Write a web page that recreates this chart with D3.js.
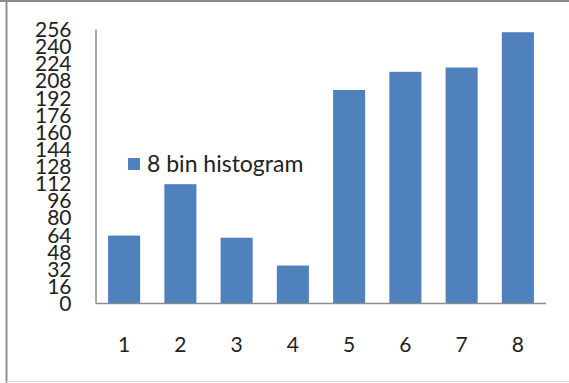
<!DOCTYPE html>
<html>
<head>
<meta charset="utf-8">
<script src="https://cdn.jsdelivr.net/npm/d3@7/dist/d3.min.js"></script>
<style>
  html, body { margin: 0; padding: 0; background: #fff; }
  svg { display: block; }
  text { font-family: Lato, "Open Sans", sans-serif; fill: #222; }
</style>
</head>
<body>
<script>
// Bin labels and pixel counts for the 8-bin histogram
const bins = ["1", "2", "3", "4", "5", "6", "7", "8"];
const counts = [63, 111, 61, 35, 199, 216, 220, 253];
const yTicks = [0, 16, 32, 48, 64, 80, 96, 112, 128, 144, 160, 176, 192, 208, 224, 240, 256];
const seriesName = "8 bin histogram";

const W = 569, H = 383;
const svg = d3.select("body").append("svg").attr("width", W).attr("height", H);

// outer frame
svg.append("line").attr("x1", 0).attr("x2", W).attr("y1", 1).attr("y2", 1)
  .attr("stroke", "#8a8a8a").attr("stroke-width", 2);
svg.append("line").attr("x1", 6.5).attr("x2", 6.5).attr("y1", 0).attr("y2", H)
  .attr("stroke", "#8f8f8f").attr("stroke-width", 2);
svg.append("line").attr("x1", 6).attr("x2", W).attr("y1", 381.5).attr("y2", 381.5)
  .attr("stroke", "#dcdcdc").attr("stroke-width", 1);

const plot = { left: 96, right: 546, top: 29, bottom: 303 };

const x = d3.scaleBand().domain(bins)
  .range([plot.left, plot.right])
  .paddingInner(0.43).paddingOuter(0.215);
const y = d3.scaleLinear().domain([0, 256]).range([plot.bottom, plot.top]);

// bars
svg.append("g").selectAll("rect").data(bins).join("rect")
  .attr("x", d => x(d))
  .attr("y", (d, i) => y(counts[i]))
  .attr("width", x.bandwidth())
  .attr("height", (d, i) => y(0) - y(counts[i]))
  .attr("fill", "#4f81bd");

// y axis
const yAxis = svg.append("g").attr("transform", `translate(${plot.left - 0.5},0)`)
  .call(d3.axisLeft(y).tickValues(yTicks).tickSize(0).tickPadding(24));
yAxis.select(".domain").attr("stroke", "#8c8c8c").attr("stroke-width", 1.5);
yAxis.selectAll("text").style("font-size", "21px").style("fill", "#222")
  .attr("dy", "0.36em");

// x axis
const xAxis = svg.append("g").attr("transform", `translate(0,${plot.bottom})`)
  .call(d3.axisBottom(x).tickSize(0).tickPadding(49));
xAxis.select(".domain").attr("stroke", "#8c8c8c").attr("stroke-width", 1.5)
  .attr("d", `M${plot.left},0.5H${plot.right}`);
xAxis.selectAll("text").style("font-size", "21px").style("fill", "#222")
  .attr("dy", "0");

// legend
const lg = svg.append("g").attr("transform", "translate(128,158)");
lg.append("rect").attr("x", 0).attr("y", 0).attr("width", 12).attr("height", 12)
  .attr("fill", "#4f81bd");
lg.append("text").attr("x", 19).attr("y", 13.5)
  .style("font-size", "23px").text(seriesName);
</script>
</body>
</html>
